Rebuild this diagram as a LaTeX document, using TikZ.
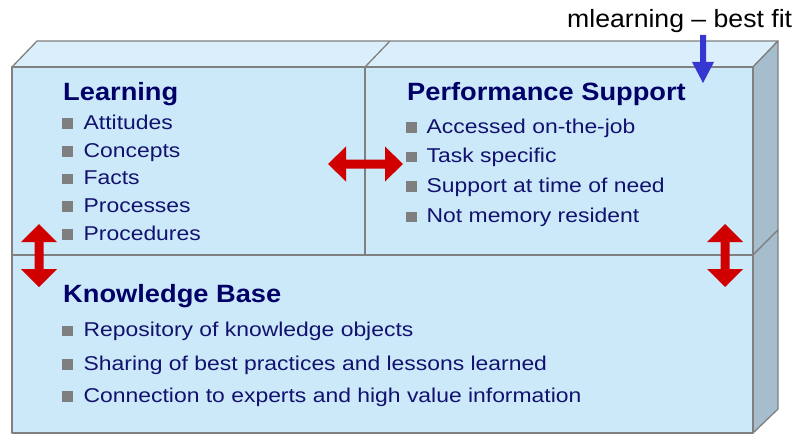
\documentclass[tikz,border=0pt]{standalone}
\usepackage{fontspec}
\setmainfont{Liberation Sans}
\newfontfamily\itemfont[FakeStretch=1.145]{Liberation Sans}
\newfontfamily\titlefont[FakeStretch=1.09]{Liberation Sans}
\newfontfamily\notefont[FakeStretch=1.065]{Liberation Sans}
\definecolor{frontc}{HTML}{CCE9FA}
\definecolor{topc}{HTML}{DAEFFB}
\definecolor{sidec}{HTML}{A5BDCD}
\definecolor{edgec}{HTML}{808080}
\definecolor{navy}{HTML}{12126E}
\definecolor{titlenavy}{HTML}{000066}
\definecolor{bulletc}{HTML}{7F7F7F}
\definecolor{arrowred}{HTML}{D00000}
\definecolor{arrowblue}{HTML}{3636D0}
\newcommand{\bul}[1]{{\color{bulletc}\rule[0.5pt]{10.5pt}{10.5pt}}\hspace{#1}}
\tikzset{
  face/.style={draw=edgec, line width=1.3pt, line join=round},
  titletext/.style={anchor=base west, inner sep=0pt, text=titlenavy, font=\titlefont\bfseries\fontsize{25}{30}\selectfont},
  itemtext/.style={anchor=base west, inner sep=0pt, text=navy, font=\itemfont\fontsize{20}{24}\selectfont},
  notetext/.style={anchor=base west, inner sep=0pt, text=black, font=\notefont\fontsize{25}{30}\selectfont},
  redarrow/.style={fill=arrowred},
  bluearrow/.style={fill=arrowblue}
}
\begin{document}
\begin{tikzpicture}[x=1pt,y=-1pt]
\useasboundingbox (0,0) rectangle (795,436);
% geometry
\coordinate (ftl) at (12,67);
\coordinate (ftr) at (753,67);
\coordinate (fml) at (12,255);
\coordinate (fmr) at (753,255);
\coordinate (fbl) at (12,433);
\coordinate (fbr) at (753,433);
\coordinate (btl) at (37,41);
\coordinate (btr) at (778,41);
\coordinate (bmr) at (778,230);
\coordinate (bbr) at (778,409);
\coordinate (dvt) at (365,67);
\coordinate (dvb) at (365,255);
\coordinate (dvk) at (390,41);
% faces
\filldraw[face, fill=topc] (ftl) -- (btl) -- (btr) -- (ftr) -- cycle;
\draw[face] (dvt) -- (dvk);
\filldraw[face, fill=sidec] (ftr) -- (btr) -- (bmr) -- (fmr) -- cycle;
\filldraw[face, fill=sidec] (fmr) -- (bmr) -- (bbr) -- (fbr) -- cycle;
\filldraw[face, fill=frontc] (ftl) rectangle (fmr);
\filldraw[face, fill=frontc] (fml) rectangle (fbr);
\draw[face] (dvt) -- (dvb);
% texts
\node[titletext] (learn) at (63,100) {Learning};
\node[itemtext] (l1) at (62,129) {\bul{11pt}Attitudes};
\node[itemtext] (l2) at (62,157) {\bul{11pt}Concepts};
\node[itemtext] (l3) at (62,184.5) {\bul{11pt}Facts};
\node[itemtext] (l4) at (62,212) {\bul{11pt}Processes};
\node[itemtext] (l5) at (62,240) {\bul{11pt}Procedures};
\node[titletext] (perf) at (407,100) {Performance Support};
\node[itemtext] (p1) at (406,133) {\bul{10pt}Accessed on-the-job};
\node[itemtext] (p2) at (406,162.5) {\bul{10pt}Task specific};
\node[itemtext] (p3) at (406,192) {\bul{10pt}Support at time of need};
\node[itemtext] (p4) at (406,222.5) {\bul{10pt}Not memory resident};
\node[titletext] (kb) at (63,302) {Knowledge Base};
\node[itemtext] (k1) at (62,336.5) {\bul{11pt}Repository of knowledge objects};
\node[itemtext] (k2) at (62,370) {\bul{11pt}Sharing of best practices and lessons learned};
\node[itemtext] (k3) at (62,402) {\bul{11pt}Connection to experts and high value information};
\node[notetext] (note) at (567,28) {mlearning – best fit};
% horizontal red double arrow
\fill[redarrow] (328,164) -- (346,146.5) -- (346,159.5) -- (385,159.5) -- (385,146.5)
  -- (403,164) -- (385,181.5) -- (385,168.5) -- (346,168.5) -- (346,181.5) -- cycle;
% left vertical red double arrow
\fill[redarrow] (39,224) -- (57,242) -- (43.5,242) -- (43.5,269) -- (57,269)
  -- (39,287) -- (21,269) -- (34.5,269) -- (34.5,242) -- (21,242) -- cycle;
% right vertical red double arrow
\fill[redarrow] (725,224) -- (743,242) -- (729.5,242) -- (729.5,269) -- (743,269)
  -- (725,287) -- (707,269) -- (720.5,269) -- (720.5,242) -- (707,242) -- cycle;
% blue arrow
\fill[bluearrow] (700,35) -- (706,35) -- (706,62) -- (714,62) -- (703,83)
  -- (692,62) -- (700,62) -- cycle;
\end{tikzpicture}
\end{document}
